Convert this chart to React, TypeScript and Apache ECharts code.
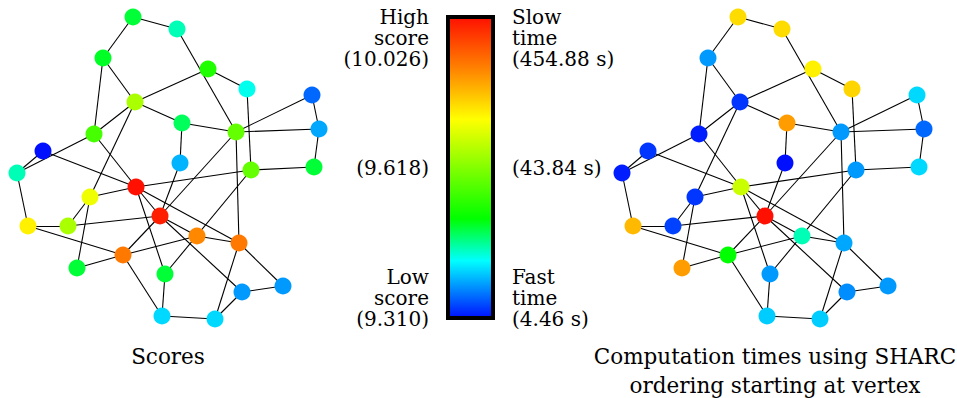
import React, { useEffect, useRef } from "react";
import * as echarts from "echarts";

// Layout coordinates of the 30 vertices (same layout used in both panels)
const nodeX = [133, 177, 103, 208, 247, 312, 135, 182, 236, 319, 94, 43, 180, 17, 251, 314, 136, 90, 160, 28, 68, 197, 239, 123, 77, 165, 242, 283, 162, 215];
const nodeY = [17, 29, 58, 69, 89, 95, 102, 123, 132, 129, 134, 151, 163, 173, 170, 167, 187, 197, 216, 226, 226, 236, 243, 255, 268, 274, 292, 286, 316, 319];

// Edges (1-indexed vertex pairs)
const edges: [number, number][] = [
  [1, 2], [1, 3], [2, 9], [3, 7], [3, 11], [4, 7], [4, 5], [5, 15], [6, 9], [6, 10],
  [10, 16], [9, 10], [7, 8], [8, 9], [8, 13], [7, 11], [7, 18], [11, 14], [12, 14], [12, 17],
  [11, 17], [17, 15], [17, 18], [17, 23], [17, 26], [17, 19], [13, 19], [9, 19], [19, 21], [19, 22],
  [19, 24], [19, 27], [22, 23], [22, 24], [15, 26], [9, 23], [23, 28], [23, 30], [27, 28], [27, 30],
  [29, 30], [24, 29], [26, 29], [20, 14], [20, 21], [20, 24], [18, 21], [18, 25], [25, 24], [15, 16],
];

// Normalised colour-scale position (0 = low score / fast, 1 = high score / slow)
const scoreLevel = [0.30, 0.23, 0.31, 0.37, 0.20, 0.07, 0.55, 0.28, 0.46, 0.12, 0.42, 0.0, 0.13, 0.23, 0.46, 0.30, 1.0, 0.64, 0.98, 0.68, 0.55, 0.83, 0.85, 0.85, 0.30, 0.30, 0.11, 0.11, 0.16, 0.16];
const timeLevel = [0.71, 0.71, 0.11, 0.68, 0.72, 0.16, 0.03, 0.80, 0.11, 0.07, 0.01, 0.03, 0.0, 0.01, 0.11, 0.16, 0.59, 0.03, 1.0, 0.76, 0.04, 0.23, 0.12, 0.33, 0.80, 0.11, 0.10, 0.11, 0.15, 0.15];

// Colour-bar labels
const leftTop = ["High", "score", "(10.026)"];
const leftMid = "(9.618)";
const leftBottom = ["Low", "score", "(9.310)"];
const rightTop = ["Slow", "time", "(454.88 s)"];
const rightMid = "(43.84 s)";
const rightBottom = ["Fast", "time", "(4.46 s)"];
const titleLeft = "Scores";
const titleRight = ["Computation times using SHARC", "ordering starting at vertex"];

const stops: [number, [number, number, number]][] = [
  [0, [0, 16, 255]],
  [0.19, [0, 255, 255]],
  [0.33, [0, 255, 0]],
  [0.66, [255, 255, 0]],
  [1, [255, 16, 0]],
];

function cmap(v: number): string {
  for (let i = 0; i < stops.length - 1; i++) {
    const [a, ca] = stops[i];
    const [b, cb] = stops[i + 1];
    if (v <= b || i === stops.length - 2) {
      const t = Math.max(0, Math.min(1, (v - a) / (b - a)));
      const c = ca.map((x, k) => Math.round(x + (cb[k] - x) * t));
      return `rgb(${c[0]},${c[1]},${c[2]})`;
    }
  }
  return "#000";
}

const FONT = "'DejaVu Serif', serif";

function txt(lines: string[], x: number, y: number, align: string, fs: number, lh: number) {
  return {
    type: "text",
    x,
    y,
    silent: true,
    style: {
      text: lines.join("\n"),
      fill: "#000",
      font: `${fs}px ${FONT}`,
      fontFamily: FONT,
      fontSize: fs,
      lineHeight: lh,
      align,
      verticalAlign: "middle",
    },
  };
}

export default function App() {
  const ref = useRef<HTMLDivElement>(null);
  useEffect(() => {
    if (!ref.current) return;
    const chart = echarts.init(ref.current, undefined, { renderer: "svg" });

    const makeSeries = (levels: number[], idx: number) => ({
      type: "graph",
      coordinateSystem: "cartesian2d",
      xAxisIndex: idx,
      yAxisIndex: idx,
      symbol: "circle",
      symbolSize: 17,
      silent: true,
      data: nodeX.map((x, i) => ({
        name: String(i + 1),
        value: [x, nodeY[i]],
        itemStyle: { color: cmap(levels[i]) },
      })),
      links: edges.map(([s, t]) => ({ source: String(s), target: String(t) })),
      lineStyle: { color: "#000", width: 1.1, opacity: 1 },
      label: { show: false },
      z: 2,
    });

    const grad = new echarts.graphic.LinearGradient(0, 0, 0, 1, [
      { offset: 0, color: "#ff1000" },
      { offset: 0.18, color: "#ff8800" },
      { offset: 0.34, color: "#ffff00" },
      { offset: 0.67, color: "#00ff00" },
      { offset: 0.81, color: "#00ffff" },
      { offset: 1, color: "#0010ff" },
    ]);

    const FS = 20;
    const LH = 21;
    const graphics: any[] = [
      {
        type: "rect",
        shape: { x: 449, y: 18, width: 45, height: 301 },
        style: { fill: "#c8c8c8" },
        silent: true,
      },
      {
        type: "rect",
        shape: { x: 448, y: 17, width: 45, height: 301 },
        style: { fill: grad, stroke: "#000", lineWidth: 4 },
        silent: true,
      },
      txt(leftTop, 429, 38, "right", FS, LH),
      txt(leftBottom, 429, 298, "right", FS, LH),
      txt([leftMid], 429, 168, "right", FS, LH),
      txt(rightTop, 512, 38, "left", FS, LH),
      txt(rightBottom, 512, 298, "left", FS, LH),
      txt([rightMid], 512, 168, "left", FS, LH),
      txt([titleLeft], 168, 356, "center", 21.5, 29),
      txt(titleRight, 775, 371, "center", 21.5, 29),
    ];

    chart.setOption({
      animation: false,
      grid: [
        { left: 0, top: 0, width: 340, height: 340 },
        { left: 605, top: 0, width: 340, height: 340 },
      ],
      xAxis: [0, 1].map((i) => ({ type: "value", gridIndex: i, min: 0, max: 340, show: false })),
      yAxis: [0, 1].map((i) => ({ type: "value", gridIndex: i, min: 0, max: 340, inverse: true, show: false })),
      series: [makeSeries(scoreLevel, 0), makeSeries(timeLevel, 1)],
      graphic: graphics,
    });
    return () => chart.dispose();
  }, []);
  return (
    <div
      ref={ref}
      style={{ position: "fixed", left: 0, top: 0, width: 957, height: 398, background: "#fff" }}
    />
  );
}
